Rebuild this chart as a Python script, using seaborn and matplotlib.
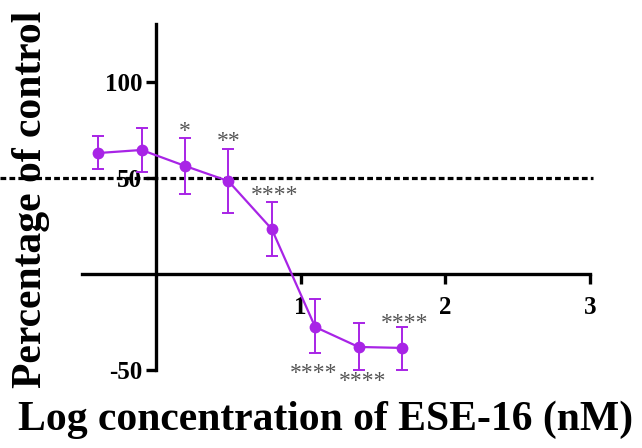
import matplotlib
matplotlib.use("Agg")
import matplotlib.pyplot as plt
import seaborn as sns
import pandas as pd
import numpy as np

# ---- data ----
log_conc = [-0.4, -0.1, 0.2, 0.5, 0.8, 1.1, 1.4, 1.7]
pct_mean = [63.0, 64.6, 56.3, 48.4, 23.4, -27.6, -38.0, -38.5]
err_upper = [71.9, 76.0, 70.8, 65.1, 37.5, -13.0, -25.5, -27.6]
err_lower = [54.7, 53.0, 41.7, 31.8, 9.4, -41.0, -50.0, -50.0]
sig_labels = ["", "", "*", "**", "****", "****", "****", "****"]
sig_y = [None, None, 74.0, 69.0, 41.0, -52.0, -56.0, -26.0]
sig_dx = [0, 0, 0, 0, 0.02, -0.01, 0.03, 0.02]
ref_level = 50
x_ticks = [1, 2, 3]
x_tick_labels = ["1", "2", "3"]
y_ticks = [-50, 50, 100]
y_tick_labels = ["-50", "50", "100"]

purple = "#A824E6"

sns.set_style("white")
plt.rcParams["font.family"] = ["Liberation Serif", "DejaVu Serif"]
plt.rcParams["font.weight"] = "bold"
plt.rcParams["text.color"] = "black"
plt.rcParams["axes.labelcolor"] = "black"
plt.rcParams["xtick.color"] = "black"
plt.rcParams["ytick.color"] = "black"

df = pd.DataFrame({"x": log_conc, "y": pct_mean})

fig = plt.figure(figsize=(6.42, 4.48), dpi=100)
ax = fig.add_axes([0, 0, 1, 1])
ax.set_facecolor("white")

# coordinate frame: x=0 at 156px, 144.7 px/unit; y=0 at 274px from top, 1.92 px/unit
ax.set_xlim(-156 / 144.7, (642 - 156) / 144.7)
ax.set_ylim((274 - 448) / 1.92, 274 / 1.92)

# reference line
ax.hlines(ref_level, ax.get_xlim()[0], 3.02, colors="black", lw=2.3,
          linestyles=(0, (1.8, 1.0)), zorder=1)

sns.lineplot(data=df, x="x", y="y", ax=ax, color=purple, lw=1.6,
             marker="o", markersize=8.5, markeredgewidth=0, zorder=4)

yerr = np.array([np.array(pct_mean) - np.array(err_lower),
                 np.array(err_upper) - np.array(pct_mean)])
ax.errorbar(log_conc, pct_mean, yerr=yerr, fmt="none", ecolor=purple,
            elinewidth=1.4, capsize=4.2, capthick=1.4, zorder=3)

for xi, yi, lab, dx in zip(log_conc, sig_y, sig_labels, sig_dx):
    if lab:
        ax.text(xi + dx, yi, lab, ha="center", va="center", fontsize=17,
                color="#555555", fontweight="normal")

# spines
for s in ["top", "right"]:
    ax.spines[s].set_visible(False)
ax.spines["left"].set_position(("data", 0))
ax.spines["bottom"].set_position(("data", 0))
ax.spines["left"].set_bounds(-50, 130)
ax.spines["bottom"].set_bounds(-0.51, 3)
for s in ["left", "bottom"]:
    ax.spines[s].set_linewidth(2.4)
    ax.spines[s].set_color("black")

ax.set_xticks(x_ticks)
ax.set_xticklabels(x_tick_labels)
ax.set_yticks(y_ticks)
ax.set_yticklabels(y_tick_labels)
ax.tick_params(axis="both", direction="out", length=7, width=2.4,
               labelsize=18, color="black", labelcolor="black",
               bottom=True, left=True)
ax.tick_params(axis="x", pad=9)
ax.tick_params(axis="y", pad=3)
for t in ax.get_xticklabels() + ax.get_yticklabels():
    t.set_fontweight("bold")

ax.set_xlabel("Log concentration of ESE-16 (nM)", fontsize=30,
              fontweight="bold", color="black")
ax.set_ylabel("Percentage of control", fontsize=30, fontweight="bold",
              color="black")
ax.xaxis.set_label_coords(326 / 642, 1 - 420 / 448)
ax.xaxis.label.set_va("center")
ax.yaxis.set_label_coords(31 / 642, 1 - 199 / 448)
ax.yaxis.label.set_va("center")
ax.yaxis.label.set_ha("center")

fig.savefig("out.png", dpi=100, facecolor="white")
